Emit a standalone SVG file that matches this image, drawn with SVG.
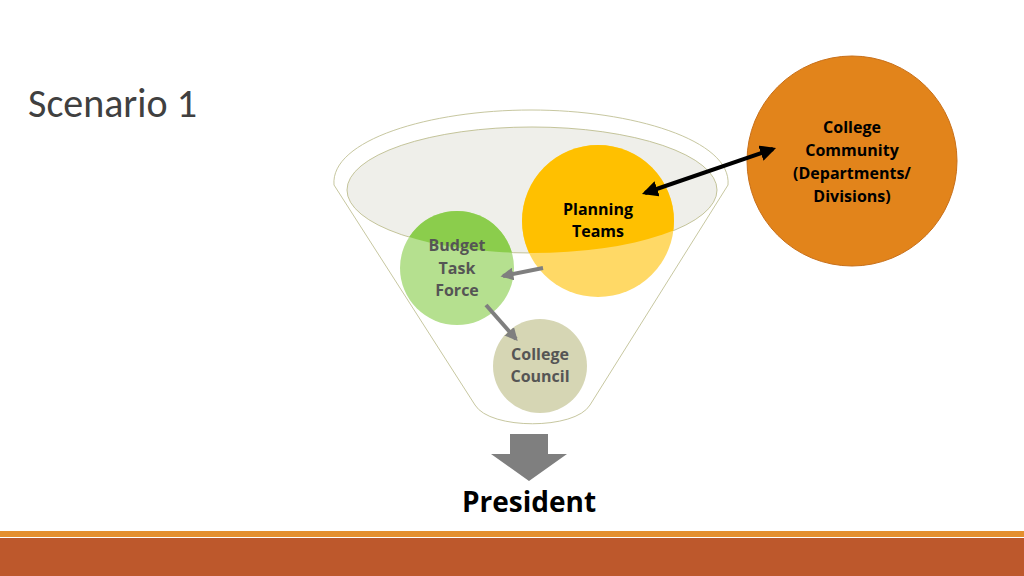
<svg xmlns="http://www.w3.org/2000/svg" width="1024" height="576" viewBox="0 0 1024 576">
<style>
.t{font-family:"Open Sans","Liberation Sans",sans-serif;font-weight:bold;font-size:16px;text-anchor:middle}
</style>
<defs>
<clipPath id="ec"><ellipse cx="532" cy="190" rx="185" ry="63"/></clipPath>
<marker id="ga" viewBox="0 0 10 10" refX="8" refY="5" markerWidth="3.2" markerHeight="3.2" orient="auto"><path d="M0,0 L10,5 L0,10 Z" fill="#7f7f7f"/></marker>
<marker id="ba" viewBox="0 0 10 10" refX="8" refY="5" markerWidth="4" markerHeight="4" orient="auto-start-reverse"><path d="M0,0 L10,5 L0,10 Z" fill="#000"/></marker>
</defs>
<rect width="1024" height="576" fill="#fff"/>
<text x="28" y="117" font-family="Calibri,'Open Sans','Liberation Sans',sans-serif" font-size="40" fill="#404040">Scenario 1</text>
<g id="funnel">
<path d="M334,185 C330,140 430,110 531,110 C632,110 732,140 728,185 L590,405 C575,430 490,430 475,405 Z" fill="#fff" stroke="#c7c7a0" stroke-width="1"/>
<ellipse cx="532" cy="190" rx="185" ry="63" fill="#efefea" stroke="#c4c49a" stroke-width="1"/>
</g>
<g id="planning">
<circle cx="598" cy="221" r="76" fill="#ffd966"/>
<circle cx="598" cy="221" r="76" fill="#ffc000" clip-path="url(#ec)"/>
<text class="t" x="598" y="215">Planning</text><text class="t" x="598" y="237">Teams</text>
</g>
<g id="budget">
<circle cx="457" cy="268" r="57" fill="#b5e08f"/>
<circle cx="457" cy="268" r="57" fill="#8bcd4c" clip-path="url(#ec)"/>
<text class="t" x="457" y="251" fill="#555">Budget</text><text class="t" x="457" y="274" fill="#555">Task</text><text class="t" x="457" y="296" fill="#555">Force</text>
</g>
<g id="council">
<circle cx="540" cy="366" r="47" fill="#d6d6b4"/>
<text class="t" x="540" y="360" fill="#555">College</text><text class="t" x="540" y="382" fill="#555">Council</text>
</g>
<g id="community">
<circle cx="852" cy="161" r="105" fill="#e2841b" stroke="#c8701a" stroke-width="1"/>
<text class="t" x="852" y="133">College</text><text class="t" x="852" y="156">Community</text><text class="t" x="852" y="179">(Departments/</text><text class="t" x="852" y="202">Divisions)</text>
</g>
<g id="connectors">
<line x1="645" y1="193" x2="773" y2="149" stroke="#000" stroke-width="4" marker-start="url(#ba)" marker-end="url(#ba)"/>
<line x1="543" y1="268" x2="503" y2="276" stroke="#7f7f7f" stroke-width="4" marker-end="url(#ga)"/>
<line x1="486" y1="305" x2="516" y2="339" stroke="#7f7f7f" stroke-width="4" marker-end="url(#ga)"/>
<path d="M510,434 H548 V454 H567 L529,481 L491,454 H510 Z" fill="#7f7f7f"/>
</g>
<text x="529" y="512" font-family="'Open Sans','Liberation Sans',sans-serif" font-weight="bold" font-size="28" text-anchor="middle" fill="#000">President</text>
<rect x="0" y="531" width="1024" height="6" fill="#e48f2f"/>
<rect x="0" y="538" width="1024" height="38" fill="#bd582c"/>
</svg>
